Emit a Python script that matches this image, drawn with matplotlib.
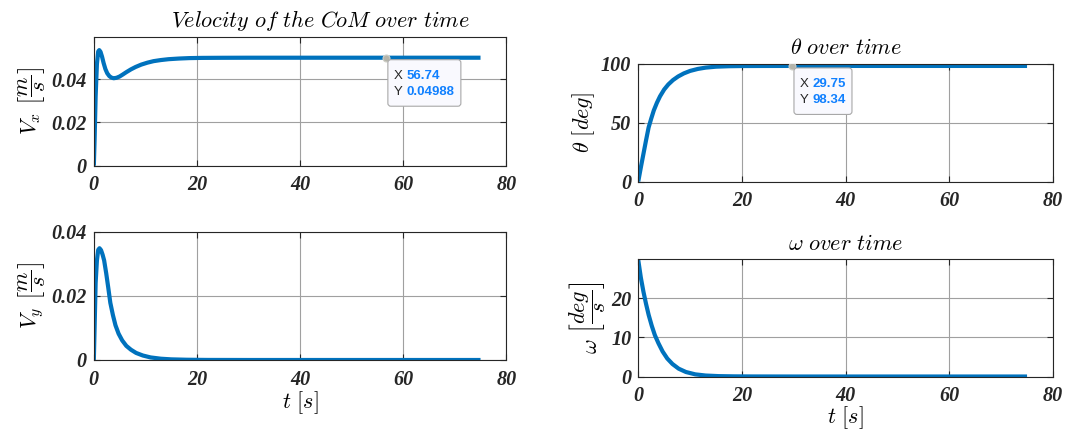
import matplotlib
matplotlib.use("Agg")
import matplotlib.pyplot as plt
from matplotlib.patches import FancyBboxPatch
from matplotlib.transforms import IdentityTransform

# time histories of the CoM velocity and body orientation
t_vx = [0, 0.15, 0.35, 0.6, 0.85, 1.05, 1.3, 1.6, 1.9, 2.25, 2.6, 3.0, 3.4, 3.85, 4.4, 5.0,
        5.6, 6.3, 7.2, 8.1, 9.2, 10.4, 11.6, 13.0, 14.5, 16.5, 18.5, 21, 25, 30, 40, 50,
        56.74, 65, 75]
vx = [0, 0.012, 0.032, 0.047, 0.0528, 0.0534, 0.0526, 0.0503, 0.0474, 0.0446, 0.0427,
      0.0414, 0.0407, 0.0404, 0.0406, 0.0412, 0.0421, 0.0432, 0.0445, 0.0456, 0.0467,
      0.0476, 0.0483, 0.0488, 0.0492, 0.0495, 0.0497, 0.0498, 0.04985, 0.04988, 0.04988,
      0.04988, 0.04988, 0.04988, 0.04988]

t_vy = [0, 0.15, 0.35, 0.6, 0.85, 1.1, 1.4, 1.7, 2.0, 2.4, 2.8, 3.2, 3.7, 4.2, 4.8, 5.5,
        6.3, 7.2, 8.2, 9.5, 11, 13, 15, 18, 22, 30, 45, 60, 75]
vy = [0, 0.010, 0.024, 0.031, 0.0343, 0.0348, 0.0342, 0.0328, 0.0310, 0.0270, 0.0225,
      0.0178, 0.0140, 0.0108, 0.0082, 0.0061, 0.0044, 0.0032, 0.0022, 0.0014, 0.0008,
      0.0004, 0.0002, 0.00008, 0.00002, 0, 0, 0, 0]

t_th = [0, 0.5, 1.0, 1.5, 2.0, 2.5, 3.0, 3.6, 4.2, 5.0, 5.8, 6.7, 7.7, 8.8, 10, 11.5,
        13, 15, 17.5, 20, 24, 29.75, 40, 55, 75]
theta = [0, 12, 23.5, 35, 46, 53.5, 60.5, 67, 72.5, 78.3, 82.6, 86.3, 89.4, 92, 94.1,
         95.8, 96.9, 97.7, 98.1, 98.25, 98.31, 98.34, 98.34, 98.34, 98.34]

t_om = [0, 0.5, 1.0, 1.5, 2.0, 2.6, 3.2, 3.9, 4.7, 5.6, 6.6, 7.8, 9.2, 11, 13, 15.5,
        18.5, 22, 30, 45, 60, 75]
omega = [29.8, 25.3, 21.7, 18.6, 15.8, 13.0, 10.6, 8.5, 6.4, 4.6, 3.2, 2.0, 1.15, 0.55,
         0.25, 0.1, 0.04, 0.015, 0, 0, 0, 0]

x_ticks = [0, 20, 40, 60, 80]
x_ticklabels = ["0", "20", "40", "60", "80"]
vx_ticks = [0, 0.02, 0.04]
vx_ticklabels = ["0", "0.02", "0.04"]
vy_ticks = [0, 0.02, 0.04]
vy_ticklabels = ["0", "0.02", "0.04"]
th_ticks = [0, 50, 100]
th_ticklabels = ["0", "50", "100"]
om_ticks = [0, 10, 20]
om_ticklabels = ["0", "10", "20"]

# data tips (x, y, shown text)
tip_vx = (56.74, 0.04988, "56.74", "0.04988")
tip_th = (29.75, 98.34, "29.75", "98.34")

plt.rcParams["mathtext.fontset"] = "cm"

BLUE = "#0072BD"
DARK = "#262626"

fig = plt.figure(figsize=(10.65, 4.3), dpi=100)

ax_vx = fig.add_axes([0.0881, 0.6147, 0.3873, 0.3])
ax_vy = fig.add_axes([0.0881, 0.1628, 0.3873, 0.2988])
ax_th = fig.add_axes([0.5993, 0.5779, 0.3894, 0.2733])
ax_om = fig.add_axes([0.5993, 0.1244, 0.3894, 0.2726])

tick_font = dict(family="Liberation Serif", style="italic", weight="bold", size=14.5)


def style_axes(ax, yticks, yticklabels, ylim):
    ax.set_xlim(0, 80)
    ax.set_ylim(*ylim)
    ax.set_xticks(x_ticks)
    ax.set_xticklabels(x_ticklabels, fontdict=tick_font)
    ax.set_yticks(yticks)
    ax.set_yticklabels(yticklabels, fontdict=tick_font)
    ax.tick_params(direction="in", length=4, width=0.8, top=True, right=True,
                   colors=DARK, pad=5)
    ax.tick_params(axis="x", pad=7)
    for sp in ax.spines.values():
        sp.set_color(DARK)
        sp.set_linewidth(0.8)
    ax.grid(True, color="#a0a0a0", lw=0.8)
    ax.set_axisbelow(True)


ax_vx.plot(t_vx, vx, color=BLUE, lw=3, solid_capstyle="butt")
style_axes(ax_vx, vx_ticks, vx_ticklabels, (0, 0.0596))
ax_vx.set_ylabel(r"$V_x\ \left[\dfrac{m}{s}\right]$", fontsize=16)
ax_vx.yaxis.set_label_coords(-0.112, 0.5)
ax_vx.set_title(r"$Velocity\ of\ the\ CoM\ over\ time$", fontsize=16, x=0.55, pad=7)

ax_vy.plot(t_vy, vy, color=BLUE, lw=3, solid_capstyle="butt")
style_axes(ax_vy, vy_ticks, vy_ticklabels, (0, 0.04))
ax_vy.set_ylabel(r"$V_y\ \left[\dfrac{m}{s}\right]$", fontsize=16)
ax_vy.yaxis.set_label_coords(-0.112, 0.5)
ax_vy.set_xlabel(r"$t\ [s]$", fontsize=16)
ax_vy.xaxis.set_label_coords(0.5, -0.23)

ax_th.plot(t_th, theta, color=BLUE, lw=3, solid_capstyle="butt")
style_axes(ax_th, th_ticks, th_ticklabels, (0, 100))
ax_th.set_ylabel(r"$\theta\ [deg]$", fontsize=16)
ax_th.yaxis.set_label_coords(-0.1, 0.5)
ax_th.set_title(r"$\theta\ over\ time$", fontsize=16, pad=7)

ax_om.plot(t_om, omega, color=BLUE, lw=3, solid_capstyle="butt")
style_axes(ax_om, om_ticks, om_ticklabels, (0, 30))
ax_om.set_ylabel(r"$\omega\ \left[\dfrac{deg}{s}\right]$", fontsize=16)
ax_om.yaxis.set_label_coords(-0.073, 0.5)
ax_om.set_title(r"$\omega\ over\ time$", fontsize=16, pad=7)
ax_om.set_xlabel(r"$t\ [s]$", fontsize=16)
ax_om.xaxis.set_label_coords(0.5, -0.235)


def datatip(ax, tip, width):
    x, y, xs, ys = tip
    ax.plot([x], [y], "o", ms=5, mfc="#b4b4aa", mec="#d0d0c8", mew=0.8, zorder=6)
    px, py = ax.transData.transform((x, y))
    box = FancyBboxPatch((px + 1.5, py - 48.5), width, 46.5,
                         boxstyle="round,pad=0,rounding_size=3",
                         transform=IdentityTransform(), fc="#f9f9fe", ec="#a8a8a8",
                         lw=0.8, zorder=7)
    fig.add_artist(box)
    for dy, key, val in ((-18, "X", xs), (-34.5, "Y", ys)):
        fig.text(px + 7.5, py + dy, key, transform=IdentityTransform(),
                 family="Liberation Sans", size=9.5, color=DARK, va="center", zorder=8)
        fig.text(px + 20.5, py + dy, val, transform=IdentityTransform(),
                 family="Liberation Sans", size=9.5, weight="bold", color="#1080ff",
                 va="center", zorder=8)


datatip(ax_vx, tip_vx, 73)
datatip(ax_th, tip_th, 58)

fig.savefig("out.png", dpi=100)
